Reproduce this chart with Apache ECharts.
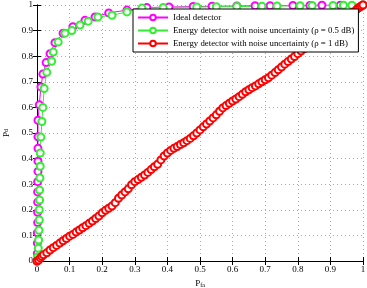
<!DOCTYPE html>
<html><head><meta charset="utf-8">
<script src="https://cdn.jsdelivr.net/npm/echarts@6/dist/echarts.min.js"></script>
<style>html,body{margin:0;padding:0;background:#fff}#c{width:367px;height:288px}</style>
</head><body><div id="c"></div>
<script>
var xTicks = ['0','0.1','0.2','0.3','0.4','0.5','0.6','0.7','0.8','0.9','1'];
var yTicks = ['0','0.1','0.2','0.3','0.4','0.5','0.6','0.7','0.8','0.9','1'];
var seriesNames = ['Ideal detector', 'Energy detector with noise uncertainty (ρ = 0.5 dB)', 'Energy detector with noise uncertainty (ρ = 1 dB)'];
var magenta = [[0,0],[0.001,0.03],[0.001,0.07],[0.001,0.11],[0.002,0.15],[0.002,0.19],[0.002,0.23],[0.002,0.27],[0.002,0.31],[0.003,0.35],[0.003,0.39],[0.003,0.44],[0.003,0.485],[0.003,0.55],[0.007,0.61],[0.012,0.68],[0.018,0.73],[0.028,0.775],[0.04,0.81],[0.055,0.853],[0.08,0.89],[0.11,0.915],[0.147,0.94],[0.178,0.953],[0.22,0.969],[0.276,0.98],[0.337,0.99],[0.405,0.992],[0.479,0.994],[0.537,0.995],[0.613,0.996],[0.669,0.997],[0.715,0.997],[0.785,0.998],[0.837,0.998],[0.874,0.999],[0.93,0.999],[1,1]];
var green = [[0,0],[0.002,0.016],[0.004,0.05],[0.005,0.082],[0.006,0.12],[0.007,0.16],[0.007,0.2],[0.008,0.238],[0.008,0.277],[0.009,0.324],[0.01,0.37],[0.01,0.422],[0.012,0.484],[0.015,0.545],[0.018,0.6],[0.022,0.674],[0.03,0.737],[0.045,0.78],[0.05,0.816],[0.065,0.855],[0.086,0.89],[0.107,0.9],[0.132,0.922],[0.157,0.937],[0.187,0.953],[0.23,0.96],[0.276,0.973],[0.322,0.988],[0.387,0.99],[0.49,0.992],[0.55,0.993],[0.613,0.994],[0.69,0.995],[0.736,0.996],[0.807,0.997],[0.844,0.998],[0.908,0.998],[0.94,0.999],[0.966,0.999],[1,1]];
var red = [[0,0],[0.005,0.004],[0.01,0.012],[0.015,0.018],[0.02,0.024],[0.03,0.032],[0.04,0.043],[0.05,0.052],[0.06,0.061],[0.07,0.07],[0.08,0.079],[0.09,0.088],[0.1,0.097],[0.11,0.104],[0.12,0.113],[0.13,0.121],[0.14,0.13],[0.15,0.138],[0.16,0.147],[0.17,0.156],[0.18,0.166],[0.19,0.176],[0.2,0.188],[0.21,0.198],[0.22,0.206],[0.23,0.215],[0.24,0.228],[0.25,0.245],[0.26,0.258],[0.27,0.27],[0.28,0.282],[0.29,0.298],[0.3,0.31],[0.31,0.318],[0.32,0.327],[0.33,0.336],[0.34,0.346],[0.35,0.357],[0.36,0.368],[0.37,0.378],[0.38,0.395],[0.39,0.41],[0.4,0.422],[0.41,0.432],[0.42,0.44],[0.43,0.447],[0.44,0.455],[0.45,0.462],[0.46,0.47],[0.47,0.479],[0.48,0.489],[0.49,0.5],[0.5,0.512],[0.51,0.524],[0.52,0.535],[0.53,0.547],[0.54,0.559],[0.55,0.571],[0.56,0.585],[0.57,0.598],[0.58,0.607],[0.59,0.616],[0.6,0.625],[0.61,0.633],[0.62,0.642],[0.63,0.651],[0.64,0.661],[0.65,0.669],[0.66,0.677],[0.67,0.684],[0.68,0.692],[0.69,0.7],[0.7,0.708],[0.71,0.716],[0.72,0.726],[0.73,0.736],[0.74,0.747],[0.75,0.758],[0.76,0.769],[0.77,0.779],[0.78,0.789],[0.79,0.799],[0.8,0.81],[0.81,0.82],[0.82,0.83],[0.83,0.84],[0.84,0.85],[0.85,0.86],[0.86,0.869],[0.87,0.878],[0.88,0.888],[0.89,0.898],[0.9,0.907],[0.91,0.916],[0.92,0.925],[0.93,0.934],[0.94,0.944],[0.95,0.953],[0.96,0.962],[0.97,0.972],[0.98,0.982],[0.985,0.988],[0.99,0.992],[0.995,0.996],[1,1]];

var font = 'Liberation Serif';
var chart = echarts.init(document.getElementById('c'));
function mkSeries(name, data, color) {
  return {name: name, type: 'line', data: data, symbol: 'emptyCircle', symbolSize: 7,
    itemStyle: {color: color, borderWidth: 0.8}, lineStyle: {color: color, width: 1}, animation: false, clip: false};
}
var tickFmt = function (arr) { return function (v) { var i = Math.round(v * 10); return arr[i] !== undefined ? arr[i] : ''; }; };
chart.setOption({
  animation: false,
  grid: {left: 37, right: 4, top: 5, bottom: 27, containLabel: false, outerBoundsMode: 'none'},
  legend: {
    left: 133, top: 9, orient: 'vertical', itemGap: 4, itemWidth: 30, itemHeight: 7,
    backgroundColor: '#fff', borderColor: '#000', borderWidth: 1, padding: [4, 4, 4, 4],
    textStyle: {fontFamily: font, fontSize: 8.8, color: '#000'},
    data: seriesNames
  },
  xAxis: [{
    type: 'value', min: 0, max: 1, interval: 0.1,
    name: 'P{s|fa}', nameLocation: 'middle', nameGap: 14,
    nameTextStyle: {fontFamily: font, fontSize: 9, color: '#000', rich: {s: {fontSize: 6, verticalAlign: 'bottom', padding: [4, 0, 0, 0], fontFamily: font}}},
    axisLine: {lineStyle: {color: '#000', width: 1}},
    axisTick: {inside: true, length: 4, lineStyle: {color: '#000'}},
    axisLabel: {fontFamily: font, fontSize: 9, color: '#000', margin: 4, formatter: tickFmt(xTicks)},
    splitLine: {show: true, lineStyle: {color: '#aaa', type: [1, 3], width: 1}}
  }, {
    type: 'value', min: 0, max: 1, interval: 0.1, position: 'top',
    axisLine: {show: true, lineStyle: {color: '#000', width: 1}},
    axisTick: {show: true, inside: true, length: 4, lineStyle: {color: '#000'}},
    axisLabel: {show: false}, splitLine: {show: false}
  }],
  yAxis: [{
    type: 'value', min: 0, max: 1, interval: 0.1,
    name: 'P{s|d}', nameLocation: 'middle', nameGap: 25, nameRotate: 90,
    nameTextStyle: {fontFamily: font, fontSize: 9, color: '#000', rich: {s: {fontSize: 6, fontFamily: font}}},
    axisLine: {show: true, lineStyle: {color: '#000', width: 1}},
    axisTick: {show: true, inside: true, length: 4, lineStyle: {color: '#000'}},
    axisLabel: {fontFamily: font, fontSize: 9, color: '#000', margin: 4, formatter: tickFmt(yTicks)},
    splitLine: {show: true, lineStyle: {color: '#aaa', type: [1, 3], width: 1}}
  }, {
    type: 'value', min: 0, max: 1, interval: 0.1, position: 'right',
    axisLine: {show: true, lineStyle: {color: '#000', width: 1}},
    axisTick: {show: true, inside: true, length: 4, lineStyle: {color: '#000'}},
    axisLabel: {show: false}, splitLine: {show: false}
  }],
  series: [
    mkSeries(seriesNames[0], magenta, '#ff00ff'),
    mkSeries(seriesNames[1], green, '#33ee33'),
    mkSeries(seriesNames[2], red, '#ff0000')
  ]
});
</script></body></html>
